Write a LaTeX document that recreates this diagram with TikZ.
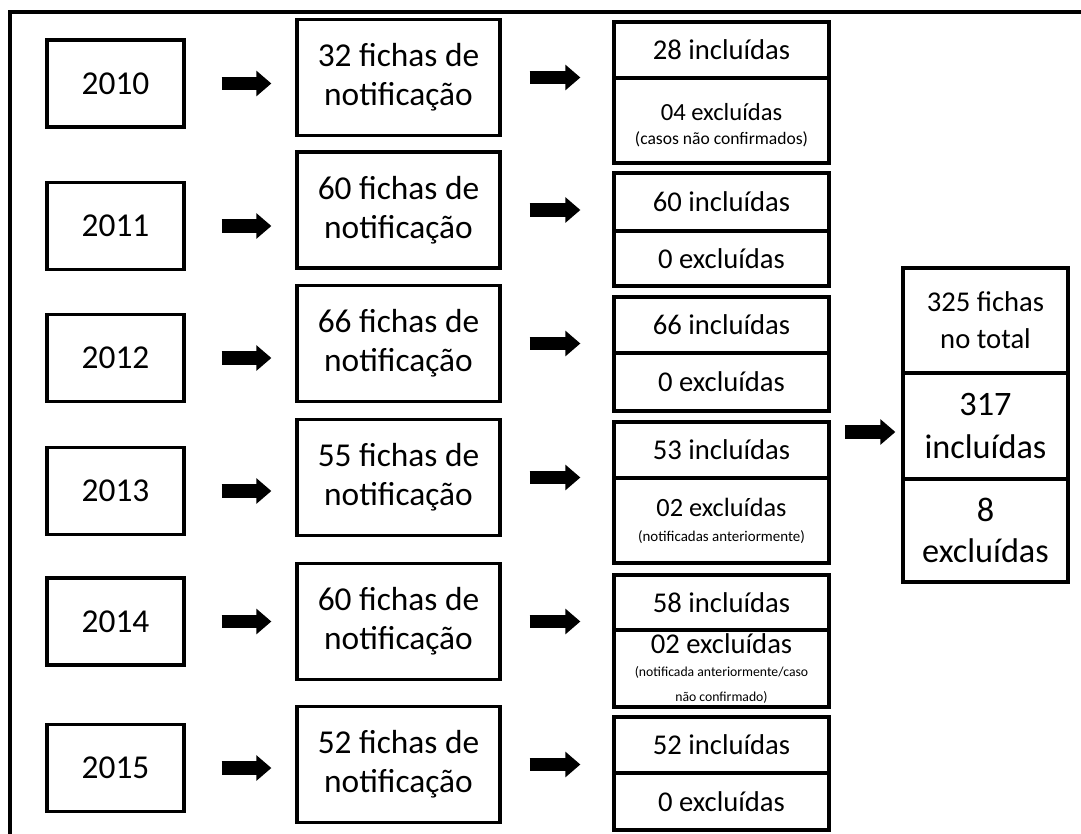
\documentclass[tikz,border=0pt]{standalone}
\usepackage{fontspec}
\setmainfont{Carlito}
\usetikzlibrary{arrows.meta}

\begin{document}
\begin{tikzpicture}[x=0.02cm, y=-0.02cm, line width=1.9pt,
    year/.style={draw, minimum width=2.74cm, minimum height=1.74cm, font=\fontsize{19}{22}\selectfont},
    ficha/.style={draw, minimum width=4.06cm, minimum height=2.32cm, align=center, font=\fontsize{19}{22}\selectfont},
    incl/.style={draw, minimum width=4.3cm, font=\fontsize{16.3}{19}\selectfont},
    excl/.style={draw, minimum width=4.3cm, align=center, font=\fontsize{16.3}{19}\selectfont},
    total/.style={draw, minimum width=3.3cm, align=center},
    fat/.style={line width=7.8pt, -{Triangle[length=8.5pt, width=14pt]}}]
    \useasboundingbox (0, 0) rectangle (1081, 834);
    \draw[line width=2.3pt] (10, 834) -- (10, 12) -- (1081, 12);

    \node[year] (y2010) at (115.5, 83.5) {2010};
    \node[year] (y2011) at (115.5, 226) {2011};
    \node[year] (y2012) at (115.5, 358) {2012};
    \node[year] (y2013) at (115.5, 491) {2013};
    \node[year] (y2014) at (115.5, 621.5) {2014};
    \node[year] (y2015) at (115.5, 768) {2015};

    \node[ficha] (f2010) at (398.5, 77.5) {32 fichas de\\notificação};
    \node[ficha] (f2011) at (398.5, 210) {60 fichas de\\notificação};
    \node[ficha] (f2012) at (398.5, 343.5) {66 fichas de\\notificação};
    \node[ficha] (f2013) at (398.5, 477.5) {55 fichas de\\notificação};
    \node[ficha] (f2014) at (398.5, 621.5) {60 fichas de\\notificação};
    \node[ficha] (f2015) at (398.5, 764.5) {52 fichas de\\notificação};

    \node[incl, minimum height=1.12cm] (i2010) at (721.5, 50) {28 incluídas};
    \node[excl, minimum height=1.70cm] (e2010) at (721.5, 120.5)
      {\rule{0pt}{15pt}{\fontsize{14}{16}\selectfont 04 excluídas}\\[-5.3pt]{\fontsize{10}{12}\selectfont (casos não confirmados)}};
    \node[incl, minimum height=1.16cm] (i2011) at (721.5, 202) {60 incluídas};
    \node[excl, minimum height=1.10cm] (e2011) at (721.5, 258.5) {0 excluídas};
    \node[incl, minimum height=1.12cm] (i2012) at (721.5, 325) {66 incluídas};
    \node[excl, minimum height=1.16cm] (e2012) at (721.5, 382) {0 excluídas};
    \node[incl, minimum height=1.12cm] (i2013) at (721.5, 450) {53 incluídas};
    \node[excl, minimum height=1.70cm] (e2013) at (721.5, 520.5)
      {{\fontsize{15}{17}\selectfont 02 excluídas}\\[-4.7pt]{\fontsize{8.5}{10}\selectfont (notificadas anteriormente)}};
    \node[incl, minimum height=1.10cm] (i2014) at (721.5, 602.5) {58 incluídas};
    \node[excl, minimum height=1.54cm, inner ysep=1pt] (e2014) at (721.5, 668.5)
      {02 excluídas\\[-6pt]{\fontsize{7.8}{9}\selectfont (notificada anteriormente/caso}\\[-5pt]{\fontsize{7.8}{9}\selectfont não confirmado)}};
    \node[incl, minimum height=1.12cm] (i2015) at (721.5, 745) {52 incluídas};
    \node[excl, minimum height=1.14cm] (e2015) at (721.5, 801.5) {0 excluídas};

    \node[total, minimum height=2.10cm, font=\fontsize{16.3}{21}\selectfont] (t325) at (985.5, 320.5) {325 fichas\\no total};
    \node[total, minimum height=2.12cm, font=\fontsize{19.5}{24}\selectfont] (t317) at (985.5, 426) {317\\incluídas};
    \node[total, minimum height=2.06cm, font=\fontsize{19.5}{23}\selectfont] (t8) at (985.5, 530.5) {8\\excluídas};
    \coordinate (sum) at (845, 432);

    \draw[fat, shorten <=0.72cm, shorten >=0.48cm] (y2010) -- (y2010 -| f2010.west);
    \draw[fat, shorten <=0.72cm, shorten >=0.48cm] (y2011) -- (y2011 -| f2011.west);
    \draw[fat, shorten <=0.72cm, shorten >=0.48cm] (y2012) -- (y2012 -| f2012.west);
    \draw[fat, shorten <=0.72cm, shorten >=0.48cm] (y2013) -- (y2013 -| f2013.west);
    \draw[fat, shorten <=0.72cm, shorten >=0.48cm] (y2014) -- (y2014 -| f2014.west);
    \draw[fat, shorten <=0.72cm, shorten >=0.48cm] (y2015) -- (y2015 -| f2015.west);

    \draw[fat, shorten <=0.56cm, shorten >=0.64cm] (f2010) -- (f2010 -| i2010.west);
    \draw[fat, shorten <=0.56cm, shorten >=0.64cm] (f2011) -- (f2011 -| i2011.west);
    \draw[fat, shorten <=0.56cm, shorten >=0.64cm] (f2012) -- (f2012 -| i2012.west);
    \draw[fat, shorten <=0.56cm, shorten >=0.64cm] (f2013) -- (f2013 -| i2013.west);
    \draw[fat, shorten <=0.56cm, shorten >=0.64cm] (f2014) -- (f2014 -| i2014.west);
    \draw[fat, shorten <=0.56cm, shorten >=0.64cm] (f2015) -- (f2015 -| i2015.west);

    \draw[fat, shorten >=0.12cm] (sum) -- (sum -| t317.west);
\end{tikzpicture}
\end{document}
